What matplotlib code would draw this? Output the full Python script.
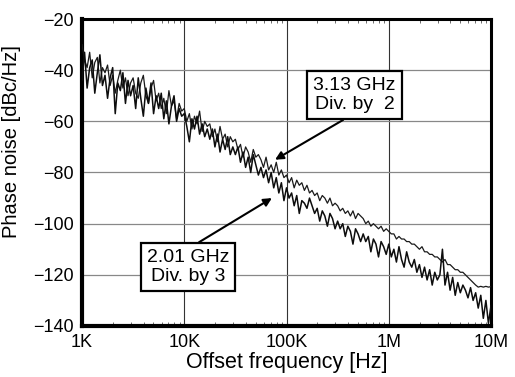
import numpy as np
import matplotlib
matplotlib.use("Agg")
import matplotlib.pyplot as plt
from matplotlib.ticker import LogLocator

plt.rcParams['font.family'] = ['Liberation Sans', 'DejaVu Sans']

# log10 of offset frequency, 1 kHz .. 10 MHz, 0.025-decade steps
log_freq = np.linspace(3.0, 7.0, 161)

div2_3p13GHz = [
    -30, -36, -39, -33, -43, -37, -35, -45, -39, -41,
    -38, -46, -42, -49, -44, -40, -47, -43, -50, -45,
    -43, -49, -51, -45, -42, -50, -53, -47, -44, -52,
    -49, -55, -51, -57, -48, -54, -52, -59, -53, -56,
    -55, -60, -57, -63, -58, -61, -56, -64, -60, -62,
    -61, -66, -63, -68, -62, -67, -65, -70, -66, -68,
    -67, -71, -69, -74, -70, -72, -76, -71, -74, -73,
    -75, -78, -74, -79, -77, -80, -76, -81, -79, -82,
    -81, -84, -82, -86, -83, -85, -84, -87, -85, -88,
    -87, -89, -88, -91, -89, -90, -92, -90, -93, -92,
    -93, -95, -94, -96, -95, -97, -95, -98, -96, -97,
    -98, -100, -99, -101, -100, -101, -102, -101, -103, -102,
    -103, -104, -104, -106, -105, -106, -106, -107, -107, -108,
    -108, -109, -110, -109, -111, -111, -112, -112, -113, -113,
    -114, -115, -114, -116, -116, -117, -118, -118, -119, -119,
    -120, -121, -122, -123, -124, -124.8, -124.5, -124.8, -124.5, -124.8, -124.6,
]

div3_2p01GHz = [
    -44, -33, -47, -39, -36, -49, -41, -34, -46, -42,
    -51, -43, -39, -57, -45, -48, -41, -53, -44, -50,
    -46, -55, -43, -51, -58, -47, -53, -45, -57, -50,
    -55, -49, -59, -52, -61, -54, -50, -60, -55, -58,
    -57, -62, -68, -59, -63, -58, -65, -61, -66, -63,
    -67, -63, -70, -65, -72, -67, -71, -66, -73, -70,
    -73, -70, -76, -72, -78, -74, -80, -73, -77, -81,
    -78, -82, -79, -84, -80, -86, -82, -88, -84, -91,
    -86, -90, -88, -93, -89, -96, -91, -92, -94, -90,
    -93, -96, -94, -99, -95, -97, -101, -96, -98, -102,
    -99, -102, -100, -105, -101, -103, -108, -102, -104, -107,
    -104, -107, -105, -111, -106, -108, -113, -107, -109, -112,
    -108, -113, -110, -115, -109, -114, -117, -111, -115, -117,
    -114, -119, -116, -121, -117, -122, -118, -124, -119, -122,
    -120, -110, -124, -119, -126, -121, -128, -123, -127, -124,
    -126, -129, -125, -130, -127, -133, -128, -137, -130, -139, -132,
]

x_ticks = [1e3, 1e4, 1e5, 1e6, 1e7]
x_ticklabels = ['1K', '10K', '100K', '1M', '10M']
y_ticks = [-140, -120, -100, -80, -60, -40, -20]

freq = 10.0 ** log_freq

fig = plt.figure(figsize=(5.15, 3.77), dpi=100)
ax = fig.add_axes([82/515, 1 - 326/377, (491-82)/515, (326-19)/377])

ax.plot(freq, div2_3p13GHz, color='#1a1a1a', lw=0.9, zorder=3)
ax.plot(freq, div3_2p01GHz, color='#0d0d0d', lw=1.1, zorder=3)

ax.set_xscale('log')
ax.set_xlim(1e3, 1e7)
ax.set_ylim(-140, -20)
ax.set_xticks(x_ticks)
ax.set_xticklabels(x_ticklabels)
ax.set_yticks(y_ticks)
ax.xaxis.set_minor_locator(LogLocator(base=10, subs=np.arange(2, 10)))
ax.xaxis.set_minor_formatter(plt.NullFormatter())

for x in x_ticks[1:-1]:
    ax.axvline(x, color='#333333', lw=0.8, zorder=1)
for y in y_ticks[1:-1]:
    ax.axhline(y, color='#888888', lw=0.9, zorder=1)

ax.tick_params(axis='both', which='major', length=0, labelsize=13)
ax.tick_params(axis='x', which='major', pad=6)
ax.tick_params(axis='y', which='major', pad=6)
ax.tick_params(axis='x', which='minor', direction='in', length=3, width=0.6,
               top=True, bottom=True, color='#555555')

for side in ['left', 'bottom']:
    ax.spines[side].set_linewidth(3.0)
for side in ['top', 'right']:
    ax.spines[side].set_linewidth(2.2)

ax.set_xlabel('Offset frequency [Hz]', fontsize=15.5, va='top')
ax.xaxis.set_label_coords(0.5, -26/307)
ax.set_ylabel('Phase noise [dBc/Hz]', fontsize=14.5)
ax.yaxis.set_label_coords(-0.15, 0.6)

box = dict(boxstyle='square,pad=0.3', facecolor='white', edgecolor='black', lw=1.6)
ax.annotate('3.13 GHz\nDiv. by  2', xy=(7.73e4, -75), xytext=(4.62e5, -49.7),
            ha='center', va='center', fontsize=14, bbox=box, zorder=5,
            arrowprops=dict(arrowstyle='-|>', color='black', lw=1.5,
                            mutation_scale=12, relpos=(0.5, 0.0),
                            shrinkA=0, shrinkB=0))
ax.annotate('2.01 GHz\nDiv. by 3', xy=(7.2e4, -90), xytext=(1.09e4, -117),
            ha='center', va='center', fontsize=14, bbox=box, zorder=5,
            arrowprops=dict(arrowstyle='-|>', color='black', lw=1.5,
                            mutation_scale=12, relpos=(0.5, 1.0),
                            shrinkA=0, shrinkB=0))

fig.savefig('out.png', dpi=100)
